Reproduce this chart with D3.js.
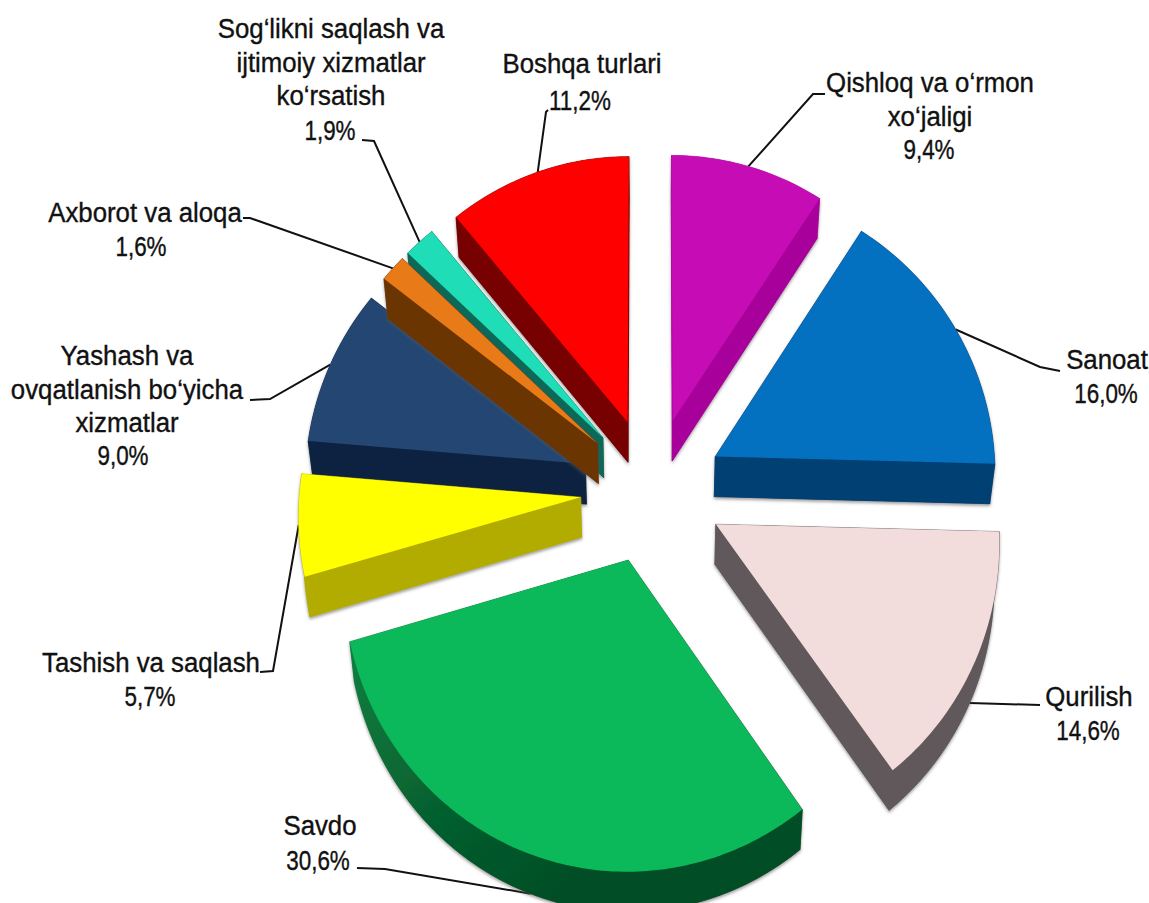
<!DOCTYPE html>
<html><head><meta charset="utf-8">
<script src="https://cdn.jsdelivr.net/npm/d3@7/dist/d3.min.js"></script>
<style>html,body{margin:0;padding:0;background:#fff}svg{display:block}
text{font-family:"Liberation Sans",Arial,sans-serif;font-size:25.8px;fill:#111;text-anchor:middle;stroke:#111;stroke-width:.35px}</style>
</head><body><svg id="c" width="1149" height="903"></svg>
<script>
const categories = ["Qishloq va o‘rmon xo‘jaligi","Sanoat","Qurilish","Savdo","Tashish va saqlash","Yashash va ovqatlanish bo‘yicha xizmatlar","Axborot va aloqa","Sog‘likni saqlash va ijtimoiy xizmatlar ko‘rsatish","Boshqa turlari"];
const shares = [9.4,16.0,14.6,30.6,5.7,9.0,1.6,1.9,11.2];
const shareLabels = ["9,4%","16,0%","14,6%","30,6%","5,7%","9,0%","1,6%","1,9%","11,2%"];
const topColors = ["#C60DB5","#0470C0","#F3DDDC","#0CB95A","#FFFF00","#234672","#E87A17","#1FDDB6","#FF0000"];
const wallColors = ["#A8069A","#003F72","#60595A","url(#gw)","#B3AC00","#0D2240","#6A3606","#0A6858","#770000"];
const labelLines = [["Qishloq va o‘rmon","xo‘jaligi"],["Sanoat"],["Qurilish"],["Savdo"],["Tashish va saqlash"],["Yashash va","ovqatlanish bo‘yicha","xizmatlar"],["Axborot va aloqa"],["Sog‘likni saqlash va","ijtimoiy xizmatlar","ko‘rsatish"],["Boshqa turlari"]];
// layout: label anchor (centre x, first baseline), share label anchor, elbow polyline from label side, whether the leader lands on the lower rim
const labelAt = [[930,92],[1107,369],[1089,706],[320,835],[151,672],[127,365],[145,222],[331,38],[582,73]];
const shareAt = [[929,159],[1106,403],[1088,740],[318,870],[150,706],[123,465],[141,256],[330,140],[580,110]];
const elbows = [[[825,94],[813,94]],[[1060,371],[1040,367]],[[1040,705],[1003,704]],[[357,868],[385,869]],[[260,672],[273,671]],[[250,400],[270,399]],[[243,218],[250,218]],[[362,140],[374,141]],[[548,110],[546,112]]];
const lowerRim = [0,0,1,1,0,0,0,0,0];
const drawOrder = [0,8,5,7,6,4,1,2,3];

const W=1149,H=903,cx=652,cy=490,A=281,B=287,k=0.054,explode=0.255,depth=40,taper=0.985;
const sx=d3.scaleLinear().domain([0,1]).range([0,A]);
const sy=d3.scaleLinear().domain([0,1]).range([0,B]);
const project=(X,Y)=>{const f=1/(1-k*Y);return [cx+sx(X)*f,cy+sy(Y)*f];};
const lower=p=>[cx+(p[0]-cx)*taper,p[1]+depth];
const arcs=d3.pie().sort(null).startAngle(0).endAngle(2*Math.PI)(shares);
const line=d3.line();
const svg=d3.select("#c");
const defs=svg.append("defs");
const f=defs.append("filter").attr("id","sh").attr("x","-10%").attr("y","-10%").attr("width","120%").attr("height","120%");
f.append("feDropShadow").attr("dx",0).attr("dy",2).attr("stdDeviation",1.6).attr("flood-color","#555").attr("flood-opacity",.55);
const gw=defs.append("linearGradient").attr("id","gw").attr("gradientUnits","userSpaceOnUse").attr("x1",350).attr("y1",650).attr("x2",560).attr("y2",900);
gw.append("stop").attr("offset",0).attr("stop-color","#0B7F40");
gw.append("stop").attr("offset",.55).attr("stop-color","#06602F");
gw.append("stop").attr("offset",1).attr("stop-color","#044D25");

function point(a,m,t){return project(Math.sin(t)+explode*Math.sin(m),-Math.cos(t)-explode*Math.cos(m));}
arcs.forEach(a=>{a.mid=(a.startAngle+a.endAngle)/2;
  const n=Math.max(2,Math.ceil((a.endAngle-a.startAngle)*180/Math.PI));
  a.rim=d3.range(n+1).map(i=>point(a,a.mid,a.startAngle+(a.endAngle-a.startAngle)*i/n));
  a.apex=project(explode*Math.sin(a.mid),-explode*Math.cos(a.mid));
});
const leaders=svg.append("g");
drawOrder.forEach(i=>{
  const a=arcs[i],g=svg.append("g").attr("filter","url(#sh)");
  const lowRim=a.rim.map(lower),lowApex=lower(a.apex);
  const parts=[[lowApex,...lowRim],[a.apex,a.rim[0],lowRim[0],lowApex],[a.apex,a.rim[a.rim.length-1],lowRim[lowRim.length-1],lowApex],[...a.rim,...lowRim.slice().reverse()]];
  g.selectAll("path").data(parts).join("path").attr("d",d=>line(d)+"Z").attr("fill",wallColors[i]).attr("stroke",wallColors[i]).attr("stroke-width",.6);
  svg.append("path").attr("d",line([a.apex,...a.rim])+"Z").attr("fill",topColors[i]);
});
arcs.forEach((a,i)=>{
  const p=point(a,a.mid,a.mid),end=lowerRim[i]?lower(p):p;
  leaders.append("path").attr("d",line([...elbows[i],end])).attr("fill","none").attr("stroke","#111").attr("stroke-width",2);
  const[x,y]=labelAt[i];
  svg.selectAll(null).data(labelLines[i]).join("text").attr("transform",(d,j)=>`translate(${x},${y+j*33.7}) scale(1,1.1)`).text(d=>d);
  svg.append("text").attr("transform",`translate(${shareAt[i][0]},${shareAt[i][1]}) scale(.87,1.1)`).text(shareLabels[i]);
});
</script></body></html>
